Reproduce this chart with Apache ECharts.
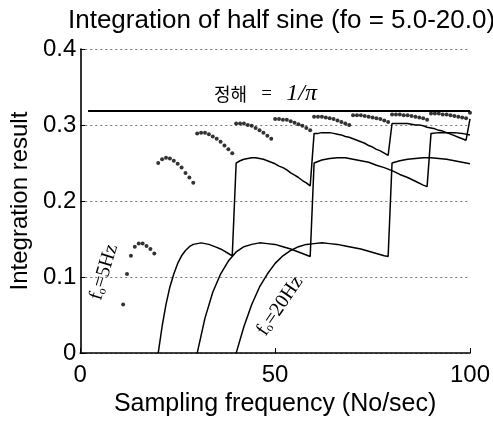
<!DOCTYPE html>
<html><head><meta charset="utf-8">
<script src="https://cdn.jsdelivr.net/npm/echarts@6/dist/echarts.min.js"></script>
<style>html,body{margin:0;padding:0;background:#fff}#c{width:493px;height:422px}</style>
</head><body><div id="c"></div>
<script>
// fo = 5 Hz (dots), sampling frequency 11..100
const fs5 = [11,12,13,14,15,16,17,18,19,
20,21,22,23,24,25,26,27,28,29,
30,31,32,33,34,35,36,37,38,39,
40,41,42,43,44,45,46,47,48,49,
50,51,52,53,54,55,56,57,58,59,
60,61,62,63,64,65,66,67,68,69,
70,71,72,73,74,75,76,77,78,79,
80,81,82,83,84,85,86,87,88,89,
90,91,92,93,94,95,96,97,98,99,100];
const res5 = [0.064,0.104,0.128,0.140,0.144,0.144,0.141,0.137,0.131,
0.250,0.255,0.257,0.256,0.253,0.249,0.244,0.237,0.231,0.224,
0.289,0.290,0.290,0.288,0.285,0.282,0.278,0.273,0.268,0.263,
0.302,0.302,0.302,0.300,0.299,0.296,0.293,0.290,0.286,0.282,
0.308,0.308,0.307,0.307,0.305,0.303,0.301,0.299,0.296,0.293,
0.311,0.311,0.311,0.310,0.309,0.308,0.306,0.304,0.302,0.300,
0.313,0.313,0.313,0.312,0.311,0.310,0.309,0.308,0.306,0.304,
0.314,0.314,0.314,0.313,0.313,0.312,0.311,0.310,0.309,0.307,
0.315,0.315,0.315,0.314,0.314,0.313,0.312,0.311,0.310,0.309,0.316];

// fo = 10 Hz
const fs10 = [20,21,22,23,24,25,26,27,28,29,
30,31,32,33,34,35,36,37,38,39,
40,41,42,43,44,45,46,47,48,49,
50,51,52,53,54,55,56,57,58,59,
60,61,62,63,64,65,66,67,68,69,
70,71,72,73,74,75,76,77,78,79,
80,81,82,83,84,85,86,87,88,89,
90,91,92,93,94,95,96,97,98,99,100];
const res10 = [0,0.035,0.064,0.087,0.104,0.118,0.128,0.135,0.140,0.143,
0.144,0.145,0.144,0.143,0.141,0.139,0.137,0.134,0.131,0.128,
0.250,0.253,0.255,0.256,0.257,0.257,0.256,0.255,0.253,0.251,
0.249,0.246,0.244,0.241,0.237,0.234,0.231,0.227,0.224,0.220,
0.289,0.289,0.290,0.290,0.290,0.289,0.288,0.287,0.285,0.284,
0.282,0.280,0.278,0.276,0.273,0.271,0.268,0.266,0.263,0.260,
0.302,0.302,0.302,0.302,0.302,0.301,0.300,0.300,0.299,0.297,
0.296,0.295,0.293,0.292,0.290,0.288,0.286,0.284,0.282,0.280,0.308];

// fo = 15 Hz
const fs15 = [30,32,34,36,38,40,42,44,46,48,50,52,54,56,58,59,
60,62,64,66,68,70,72,74,76,78,80,82,84,86,88,89,
90,92,94,96,98,100];
const res15 = [0,0.046,0.080,0.104,0.121,0.133,0.140,0.143,0.145,0.144,0.143,0.140,0.137,0.133,0.129,0.127,
0.250,0.254,0.256,0.257,0.257,0.255,0.253,0.251,0.247,0.244,0.240,0.235,0.231,0.226,0.221,0.219,
0.289,0.290,0.290,0.290,0.289,0.287];

// fo = 20 Hz
const fs20 = [40,42,44,46,48,50,52,54,56,58,60,62,64,66,68,70,72,74,76,78,79,
80,82,84,86,88,90,92,94,96,98,100];
const res20 = [0,0.035,0.064,0.087,0.104,0.118,0.128,0.135,0.140,0.143,0.144,0.145,0.144,0.143,0.141,0.139,0.137,0.134,0.131,0.128,0.127,
0.250,0.253,0.255,0.256,0.257,0.257,0.256,0.255,0.253,0.251,0.249];

// exact value line 1/pi
const exactX = [2, 100];
const exactY = [0.3183, 0.3183];

const xTickStep = 50;
const yTickStep = 0.1;

function pairs(xs, ys){ return xs.map(function(x,i){ return [x, ys[i]]; }); }

const chart = echarts.init(document.getElementById('c'), null, {renderer:'canvas'});
const lineStyleCurve = {color:'#000', width:1.5};
chart.setOption({
  animation:false,
  backgroundColor:'#fff',
  title:{
    text:'Integration of half sine (fo = 5.0-20.0)',
    left:63, top:3,
    textStyle:{fontFamily:'Liberation Sans', fontSize:26, fontWeight:'normal', color:'#000'}
  },
  grid:{left:74, right:23, top:49, bottom:68, containLabel:false},
  xAxis:{
    type:'value', min:0, max:100, interval:xTickStep,
    name:'Sampling frequency (No/sec)', nameLocation:'middle', nameGap:31,
    nameTextStyle:{fontFamily:'Liberation Sans', fontSize:25, color:'#000'},
    axisLine:{show:true, onZero:false, lineStyle:{color:'#000', width:1.6}},
    axisTick:{show:true, inside:true, length:5, lineStyle:{color:'#000'}},
    axisLabel:{fontFamily:'Liberation Sans', fontSize:24, color:'#000', margin:10},
    splitLine:{show:false}
  },
  yAxis:{
    type:'value', min:0, max:0.4, interval:yTickStep,
    name:'Integration result', nameLocation:'middle', nameGap:46, nameRotate:90,
    nameTextStyle:{fontFamily:'Liberation Sans', fontSize:24, color:'#000'},
    axisLine:{show:true, onZero:false, lineStyle:{color:'#000', width:1.6}},
    axisTick:{show:true, inside:true, length:5, lineStyle:{color:'#000'}},
    axisLabel:{fontFamily:'Liberation Sans', fontSize:24, color:'#000', margin:4},
    splitLine:{show:true, lineStyle:{color:'#777', width:1, type:[2,3]}}
  },
  series:[
    {type:'line', data:pairs(exactX, exactY), showSymbol:false, lineStyle:{color:'#000', width:2}, z:3},
    {type:'scatter', data:pairs(fs5, res5), symbolSize:4, itemStyle:{color:'#000'}, z:4},
    {type:'line', data:pairs(fs10, res10), showSymbol:false, lineStyle:lineStyleCurve, z:3},
    {type:'line', data:pairs(fs15, res15), showSymbol:false, lineStyle:lineStyleCurve, z:3},
    {type:'line', data:pairs(fs20, res20), showSymbol:false, lineStyle:lineStyleCurve, z:3}
  ],
  graphic:[
    {type:'text', x:214, y:94, z:10,
     style:{text:'{k|정해}{m|   =   }{p|1/π}', textVerticalAlign:'middle', textAlign:'left',
       rich:{k:{fontFamily:'Noto Sans CJK KR', fontSize:18, color:'#000'},
             m:{fontFamily:'Liberation Serif', fontSize:19, color:'#000'},
             p:{fontFamily:'Liberation Serif', fontStyle:'italic', fontSize:24, color:'#000'}}}},
    {type:'text', x:104, y:272, rotation:73*Math.PI/180, z:10,
     style:{text:'{f|f}{s|o}{m|=5Hz}', textAlign:'center', textVerticalAlign:'middle',
       rich:{f:{fontFamily:'Liberation Serif', fontSize:20, color:'#000'},
             s:{fontFamily:'Liberation Serif', fontSize:12, color:'#000', verticalAlign:'bottom', padding:[6,0,0,0]},
             m:{fontFamily:'Liberation Serif', fontSize:20, color:'#000'}}}},
    {type:'text', x:280, y:306, rotation:56*Math.PI/180, z:10,
     style:{text:'{f|f}{s|o}{m|=20Hz}', textAlign:'center', textVerticalAlign:'middle',
       rich:{f:{fontFamily:'Liberation Serif', fontSize:20, color:'#000'},
             s:{fontFamily:'Liberation Serif', fontSize:12, color:'#000', verticalAlign:'bottom', padding:[6,0,0,0]},
             m:{fontFamily:'Liberation Serif', fontSize:20, color:'#000'}}}}
  ]
});
</script></body></html>
